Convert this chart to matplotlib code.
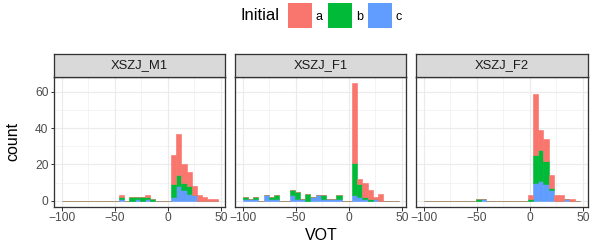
import numpy as np
import matplotlib
matplotlib.use("Agg")
import matplotlib.pyplot as plt
from matplotlib.patches import Rectangle

# ---- data ----
facets = ["XSZJ_M1", "XSZJ_F1", "XSZJ_F2"]
initials = ["a", "b", "c"]
vot_min, vot_max, n_bins = -97.55, 44.55, 30

def counts(d):
    arr = np.zeros(n_bins)
    for k, v in d.items():
        arr[k] = v
    return arr

m1_a = counts({11: 1, 16: 1, 21: 16, 22: 23, 23: 10, 24: 8, 25: 5, 26: 3, 27: 2, 28: 1, 29: 1})
m1_b = counts({11: 1, 13: 2, 14: 1, 15: 2, 16: 1, 17: 1, 21: 7, 22: 6, 23: 4, 24: 4})
m1_c = counts({11: 1, 14: 1, 16: 1, 21: 2, 22: 8, 23: 6, 24: 4, 25: 3})

f1_a = counts({21: 44, 22: 3, 23: 8, 24: 5, 25: 1, 26: 4})
f1_b = counts({0: 1, 2: 1, 5: 1, 6: 2, 9: 3, 10: 4, 12: 4, 15: 2, 18: 2, 21: 18, 22: 7, 23: 1, 24: 1})
f1_c = counts({0: 1, 1: 1, 2: 1, 4: 3, 5: 1, 6: 1, 9: 3, 10: 1, 11: 1, 13: 2, 14: 3, 15: 1,
               16: 1, 17: 1, 18: 1, 21: 3, 22: 2, 23: 1, 25: 1})

f2_a = counts({20: 2, 21: 34, 22: 11, 23: 12, 24: 7, 25: 3, 26: 3, 28: 1})
f2_b = counts({10: 1, 20: 1, 21: 15, 22: 17, 23: 13, 24: 1})
f2_c = counts({11: 1, 21: 10, 22: 11, 23: 9, 24: 6, 27: 1})

data = {
    "XSZJ_M1": (m1_a, m1_b, m1_c),
    "XSZJ_F1": (f1_a, f1_b, f1_c),
    "XSZJ_F2": (f2_a, f2_b, f2_c),
}
x_ticks = [-100, -50, 0, 50]
y_ticks = [0, 20, 40, 60]

# ---- style ----
colors = {"a": "#F8766D", "b": "#00BA38", "c": "#619CFF"}
W, H = 605, 251
fig = plt.figure(figsize=(W / 72, H / 72), dpi=72)
plt.rcParams["font.family"] = ["Liberation Sans", "DejaVu Sans"]

bw = (vot_max - vot_min) / (n_bins - 1)
edges = vot_min - bw / 2 + bw * np.arange(n_bins + 1)
centers = (edges[:-1] + edges[1:]) / 2
xr = edges[-1] - edges[0]
xlim = (edges[0] - 0.05 * xr, edges[-1] + 0.05 * xr)
ymax = max((a + b + c).max() for a, b, c in data.values())
ylim = (-0.05 * ymax, ymax * 1.05)

def fr(x0, y0top, w, h):
    return [x0 / W, 1 - (y0top + h) / H, w / W, h / H]

lefts = [54, 235, 416]
pw = 171.5
ptop, pbot = 76.7, 206.7
stop = 54

for i, name in enumerate(facets):
    ax = fig.add_axes(fr(lefts[i], ptop, pw, pbot - ptop))
    a, b, c = data[name]
    ax.bar(centers, c, width=bw, color=colors["c"], edgecolor=colors["c"], lw=0.6, zorder=2)
    ax.bar(centers, b, width=bw, bottom=c, color=colors["b"], edgecolor=colors["b"], lw=0.6, zorder=2)
    ax.bar(centers, a, width=bw, bottom=c + b, color=colors["a"], edgecolor=colors["a"], lw=0.6, zorder=2)
    ax.set_xlim(xlim)
    ax.set_ylim(ylim)
    ax.set_xticks(x_ticks)
    ax.set_xticklabels([f"{t}".replace("-", "\u2212") for t in x_ticks])
    ax.set_xticks([-75, -25, 25], minor=True)
    ax.set_yticks(y_ticks)
    ax.set_yticks([10, 30, 50], minor=True)
    ax.set_axisbelow(True)
    ax.grid(which="major", color="#EBEBEB", lw=1.1)
    ax.grid(which="minor", color="#EBEBEB", lw=0.55)
    ax.tick_params(which="minor", length=0)
    ax.tick_params(which="major", length=3.5, width=1.0, color="#333333",
                   labelsize=12, labelcolor="#4D4D4D", pad=2)
    if i > 0:
        ax.tick_params(axis="y", labelleft=False, length=0)
    for s in ax.spines.values():
        s.set_color("#333333")
        s.set_linewidth(1.3)
    # strip
    sax = fig.add_axes(fr(lefts[i], stop, pw, ptop - stop))
    sax.set_facecolor("#D9D9D9")
    sax.set_xticks([]); sax.set_yticks([])
    for s in sax.spines.values():
        s.set_color("#333333")
        s.set_linewidth(1.3)
    sax.text(0.5, 0.5, name, ha="center", va="center", fontsize=13, color="#1A1A1A",
             transform=sax.transAxes)

# axis titles
fig.text(321 / W, 1 - 236 / H, "VOT", ha="center", va="center", fontsize=16)
fig.text(13 / W, 1 - 141 / H, "count", ha="center", va="center", rotation=90, fontsize=16)

# legend
fig.text(241 / W, 1 - 16 / H, "Initial", ha="left", va="center", fontsize=16.5)
key_x = [288, 328, 368]
for kx, lab in zip(key_x, initials):
    fig.add_artist(Rectangle((kx / W, 1 - 28 / H), 23.5 / W, 25 / H,
                             transform=fig.transFigure, facecolor=colors[lab], edgecolor="none"))
    fig.text((kx + 28) / W, 1 - 17 / H, lab, ha="left", va="center", fontsize=12.5)

fig.savefig("out.png", dpi=72)
